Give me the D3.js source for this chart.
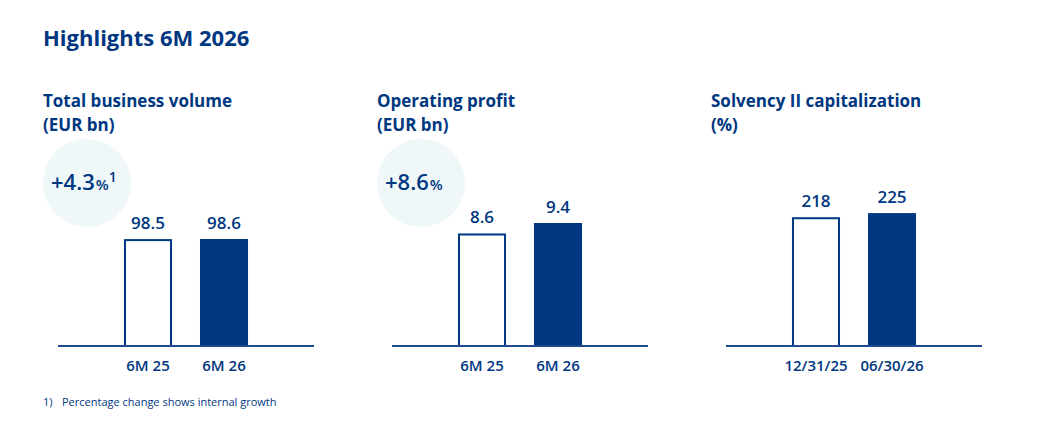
<!DOCTYPE html>
<html>
<head>
<meta charset="utf-8">
<script src="https://cdn.jsdelivr.net/npm/d3@7"></script>
<style>
  body { margin: 0; background: #fff; }
  svg { display: block; font-family: "Open Sans", sans-serif; }
</style>
</head>
<body>
<svg width="1041" height="429"></svg>
<script>
// chart values
const titles = ["Total business volume", "Operating profit", "Solvency II capitalization"];
const units = ["(EUR bn)", "(EUR bn)", "(%)"];
const categories = [["6M 25", "6M 26"], ["6M 25", "6M 26"], ["12/31/25", "06/30/26"]];
const values = [[98.5, 98.6], [8.6, 9.4], [218, 225]];
const valueLabels = [["98.5", "98.6"], ["8.6", "9.4"], ["218", "225"]];
const badges = ["+4.3", "+8.6", null];
const badgeNotes = ["1", "", null];
const yMax = [129, 10.7, 237];

const BLUE = "#003781";
const BADGE = "#eff7f9";
const BASE = 346;
const PLOT_H = 140;
const PANEL_X = [58, 392, 726];
const AXIS_W = 256;

const svg = d3.select("svg");

svg.append("text")
  .attr("x", 43).attr("y", 46)
  .attr("fill", BLUE)
  .attr("font-size", 22).attr("font-weight", 700)
  .text("Highlights 6M 2026");

titles.forEach((t, i) => {
  const x0 = PANEL_X[i];
  const g = svg.append("g");

  g.append("text")
    .attr("x", x0 - 15).attr("y", 107)
    .attr("fill", BLUE).attr("font-size", 17).attr("font-weight", 700)
    .text(t);
  g.append("text")
    .attr("x", x0 - 15).attr("y", 131)
    .attr("fill", BLUE).attr("font-size", 17).attr("font-weight", 700)
    .text(units[i]);

  // growth badge
  if (badges[i]) {
    const cx = x0 + 29, cy = 183;
    g.append("circle").attr("cx", cx).attr("cy", cy).attr("r", 44).attr("fill", BADGE);
    const bt = g.append("text")
      .attr("x", x0 - 7).attr("y", 190)
      .attr("fill", BLUE).attr("font-weight", 600);
    bt.append("tspan").attr("font-size", 22).text(badges[i]);
    bt.append("tspan").attr("font-size", 15).attr("dx", 1).text("%");
    if (badgeNotes[i]) {
      bt.append("tspan").attr("font-size", 14).attr("dy", -8).text(badgeNotes[i]);
    }
  }

  const c = x0 + AXIS_W / 2;
  const x = d3.scaleBand()
    .domain(categories[i])
    .range([c - 90, c + 90])
    .paddingInner(0.368)
    .paddingOuter(0.368);
  const y = d3.scaleLinear().domain([0, yMax[i]]).range([BASE, BASE - PLOT_H]);

  const rows = categories[i].map((k, j) => ({ k, v: values[i][j], lbl: valueLabels[i][j], j }));

  g.selectAll("rect.bar")
    .data(rows)
    .join("rect")
    .attr("class", "bar")
    .attr("x", d => x(d.k) + (d.j === 0 ? 1 : 0))
    .attr("width", d => x.bandwidth() - (d.j === 0 ? 2 : 0))
    .attr("y", d => y(d.v) + (d.j === 0 ? 1 : 0))
    .attr("height", d => BASE - y(d.v) - (d.j === 0 ? 1 : 0))
    .attr("fill", d => d.j === 0 ? "#fff" : BLUE)
    .attr("stroke", d => d.j === 0 ? BLUE : "none")
    .attr("stroke-width", 2);

  g.selectAll("text.val")
    .data(rows)
    .join("text")
    .attr("class", "val")
    .attr("x", d => x(d.k) + x.bandwidth() / 2)
    .attr("y", d => y(d.v) - 10)
    .attr("text-anchor", "middle")
    .attr("fill", BLUE).attr("font-size", 17).attr("font-weight", 600)
    .text(d => d.lbl);

  // baseline axis
  const axis = g.append("g").attr("transform", `translate(0,${BASE})`)
    .call(d3.axisBottom(x).tickSize(0).tickPadding(14));
  axis.select(".domain").remove();
  axis.append("line")
    .attr("x1", x0).attr("x2", x0 + AXIS_W)
    .attr("stroke", "#1f4b8f").attr("stroke-width", 2);
  axis.selectAll(".tick text")
    .attr("fill", BLUE).attr("font-size", 15).attr("font-weight", 600)
    .attr("font-family", "Open Sans, sans-serif");
});

const fn = svg.append("text").attr("y", 406).attr("fill", BLUE).attr("font-size", 11);
fn.append("tspan").attr("x", 43).text("1)");
fn.append("tspan").attr("x", 62).text("Percentage change shows internal growth");
</script>
</body>
</html>
